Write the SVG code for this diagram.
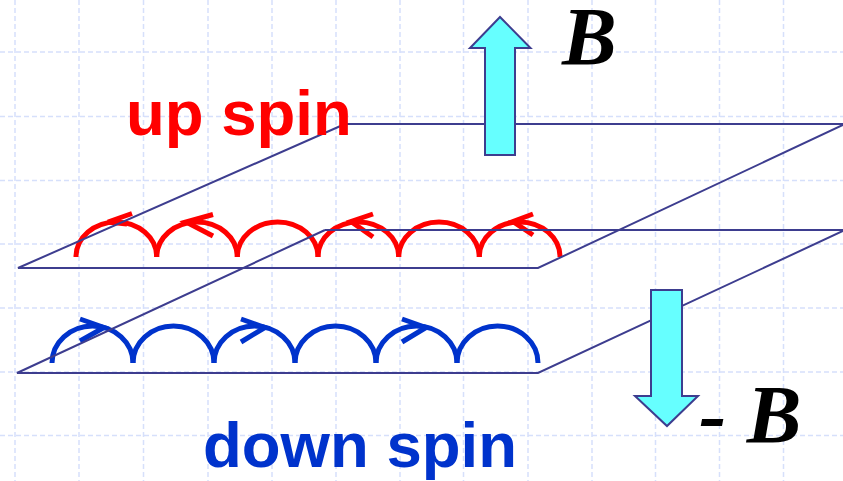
<svg xmlns="http://www.w3.org/2000/svg" width="843" height="481" viewBox="0 0 843 481">
  <style>
    .grid line { stroke: #d6e0fb; stroke-width: 1.5; stroke-dasharray: 5 3; }
    .plane { fill: none; stroke: #3d3d8f; stroke-width: 2; }
    .up { fill: none; stroke: #ff0000; stroke-width: 5; }
    .down { fill: none; stroke: #0033cc; stroke-width: 5; }
    .field { fill: #66ffff; stroke: #3d3d8f; stroke-width: 2; }
    .label { font-family: "Liberation Sans", Arial, sans-serif; font-weight: bold; font-size: 63.5px; }
    .sym { font-family: "Liberation Serif", "Times New Roman", serif; font-weight: bold; font-style: italic; font-size: 82px; fill: #000; }
  </style>

  <rect width="843" height="481" fill="#ffffff"/>

  <!-- background grid -->
  <g class="grid">
    <line x1="15" y1="0" x2="15" y2="481"/>
    <line x1="79" y1="0" x2="79" y2="481"/>
    <line x1="143.5" y1="0" x2="143.5" y2="481"/>
    <line x1="208" y1="0" x2="208" y2="481"/>
    <line x1="272" y1="0" x2="272" y2="481"/>
    <line x1="336" y1="0" x2="336" y2="481"/>
    <line x1="400" y1="0" x2="400" y2="481"/>
    <line x1="463.5" y1="0" x2="463.5" y2="481"/>
    <line x1="528" y1="0" x2="528" y2="481"/>
    <line x1="592" y1="0" x2="592" y2="481"/>
    <line x1="655.5" y1="0" x2="655.5" y2="481"/>
    <line x1="719.5" y1="0" x2="719.5" y2="481"/>
    <line x1="783.5" y1="0" x2="783.5" y2="481"/>
    <line x1="0" y1="52" x2="843" y2="52"/>
    <line x1="0" y1="116.5" x2="843" y2="116.5"/>
    <line x1="0" y1="180.5" x2="843" y2="180.5"/>
    <line x1="0" y1="244" x2="843" y2="244"/>
    <line x1="0" y1="308" x2="843" y2="308"/>
    <line x1="0" y1="372" x2="843" y2="372"/>
    <line x1="0" y1="435.5" x2="843" y2="435.5"/>
  </g>

  <!-- up-spin orbits (upper layer) -->
  <g id="up-orbits" class="up">
    <path d="M76,257 A40.3,35 0 0 1 156.7,257"/>
    <path d="M156.7,257 A40.3,35 0 0 1 237.3,257"/>
    <path d="M237.3,257 A40.3,35 0 0 1 318,257"/>
    <path d="M318,257 A40.3,35 0 0 1 398.7,257"/>
    <path d="M398.7,257 A40.3,35 0 0 1 479.3,257"/>
    <path d="M479.3,257 A40.3,35 0 0 1 560,257"/>
    <polyline points="132,213.5 108,222 127,224"/>
    <polyline points="213,214.5 186,222 213,236"/>
    <polyline points="373,214 351,221.5 373,237"/>
    <polyline points="533,214 513,221.5 533,235"/>
  </g>

  <!-- down-spin orbits (lower layer) -->
  <g id="down-orbits" class="down">
    <path d="M52,363 A40.5,37 0 0 1 133,363"/>
    <path d="M133,363 A40.5,37 0 0 1 214,363"/>
    <path d="M214,363 A40.5,37 0 0 1 295,363"/>
    <path d="M295,363 A40.5,37 0 0 1 376,363"/>
    <path d="M376,363 A40.5,37 0 0 1 457,363"/>
    <path d="M457,363 A40.5,37 0 0 1 538,363"/>
    <polyline points="80,319 104,327.5 80,341"/>
    <polyline points="241,319 265,327.5 241,342"/>
    <polyline points="402,319 426,327.5 402,342"/>
  </g>

  <!-- the two sheets -->
  <g id="planes">
    <path class="plane" d="M345,124 L845,124 M845,124 L538,268 L18,268 L345,124"/>
    <path class="plane" d="M325,230 L845,230 M845,230 L538,373 L17,373 L325,230"/>
  </g>

  <!-- field arrows -->
  <g id="field-up">
    <polygon class="field" points="485,155 485,48 470,48 500,17 530.5,48 515,48 515,155"/>
  </g>
  <g id="field-down">
    <polygon class="field" points="651,290 682,290 682,396 698,396 667,426 635,396 651,396"/>
  </g>

  <!-- labels -->
  <g id="label-up"><text class="label" x="126" y="135" fill="#ff0000">up spin</text></g>
  <g id="label-down"><text class="label" x="203" y="467" fill="#0033cc">down spin</text></g>
  <g id="label-B"><text class="sym" x="562" y="64">B</text></g>
  <g id="label-minusB"><text class="sym" x="699" y="442">- B</text></g>
</svg>
